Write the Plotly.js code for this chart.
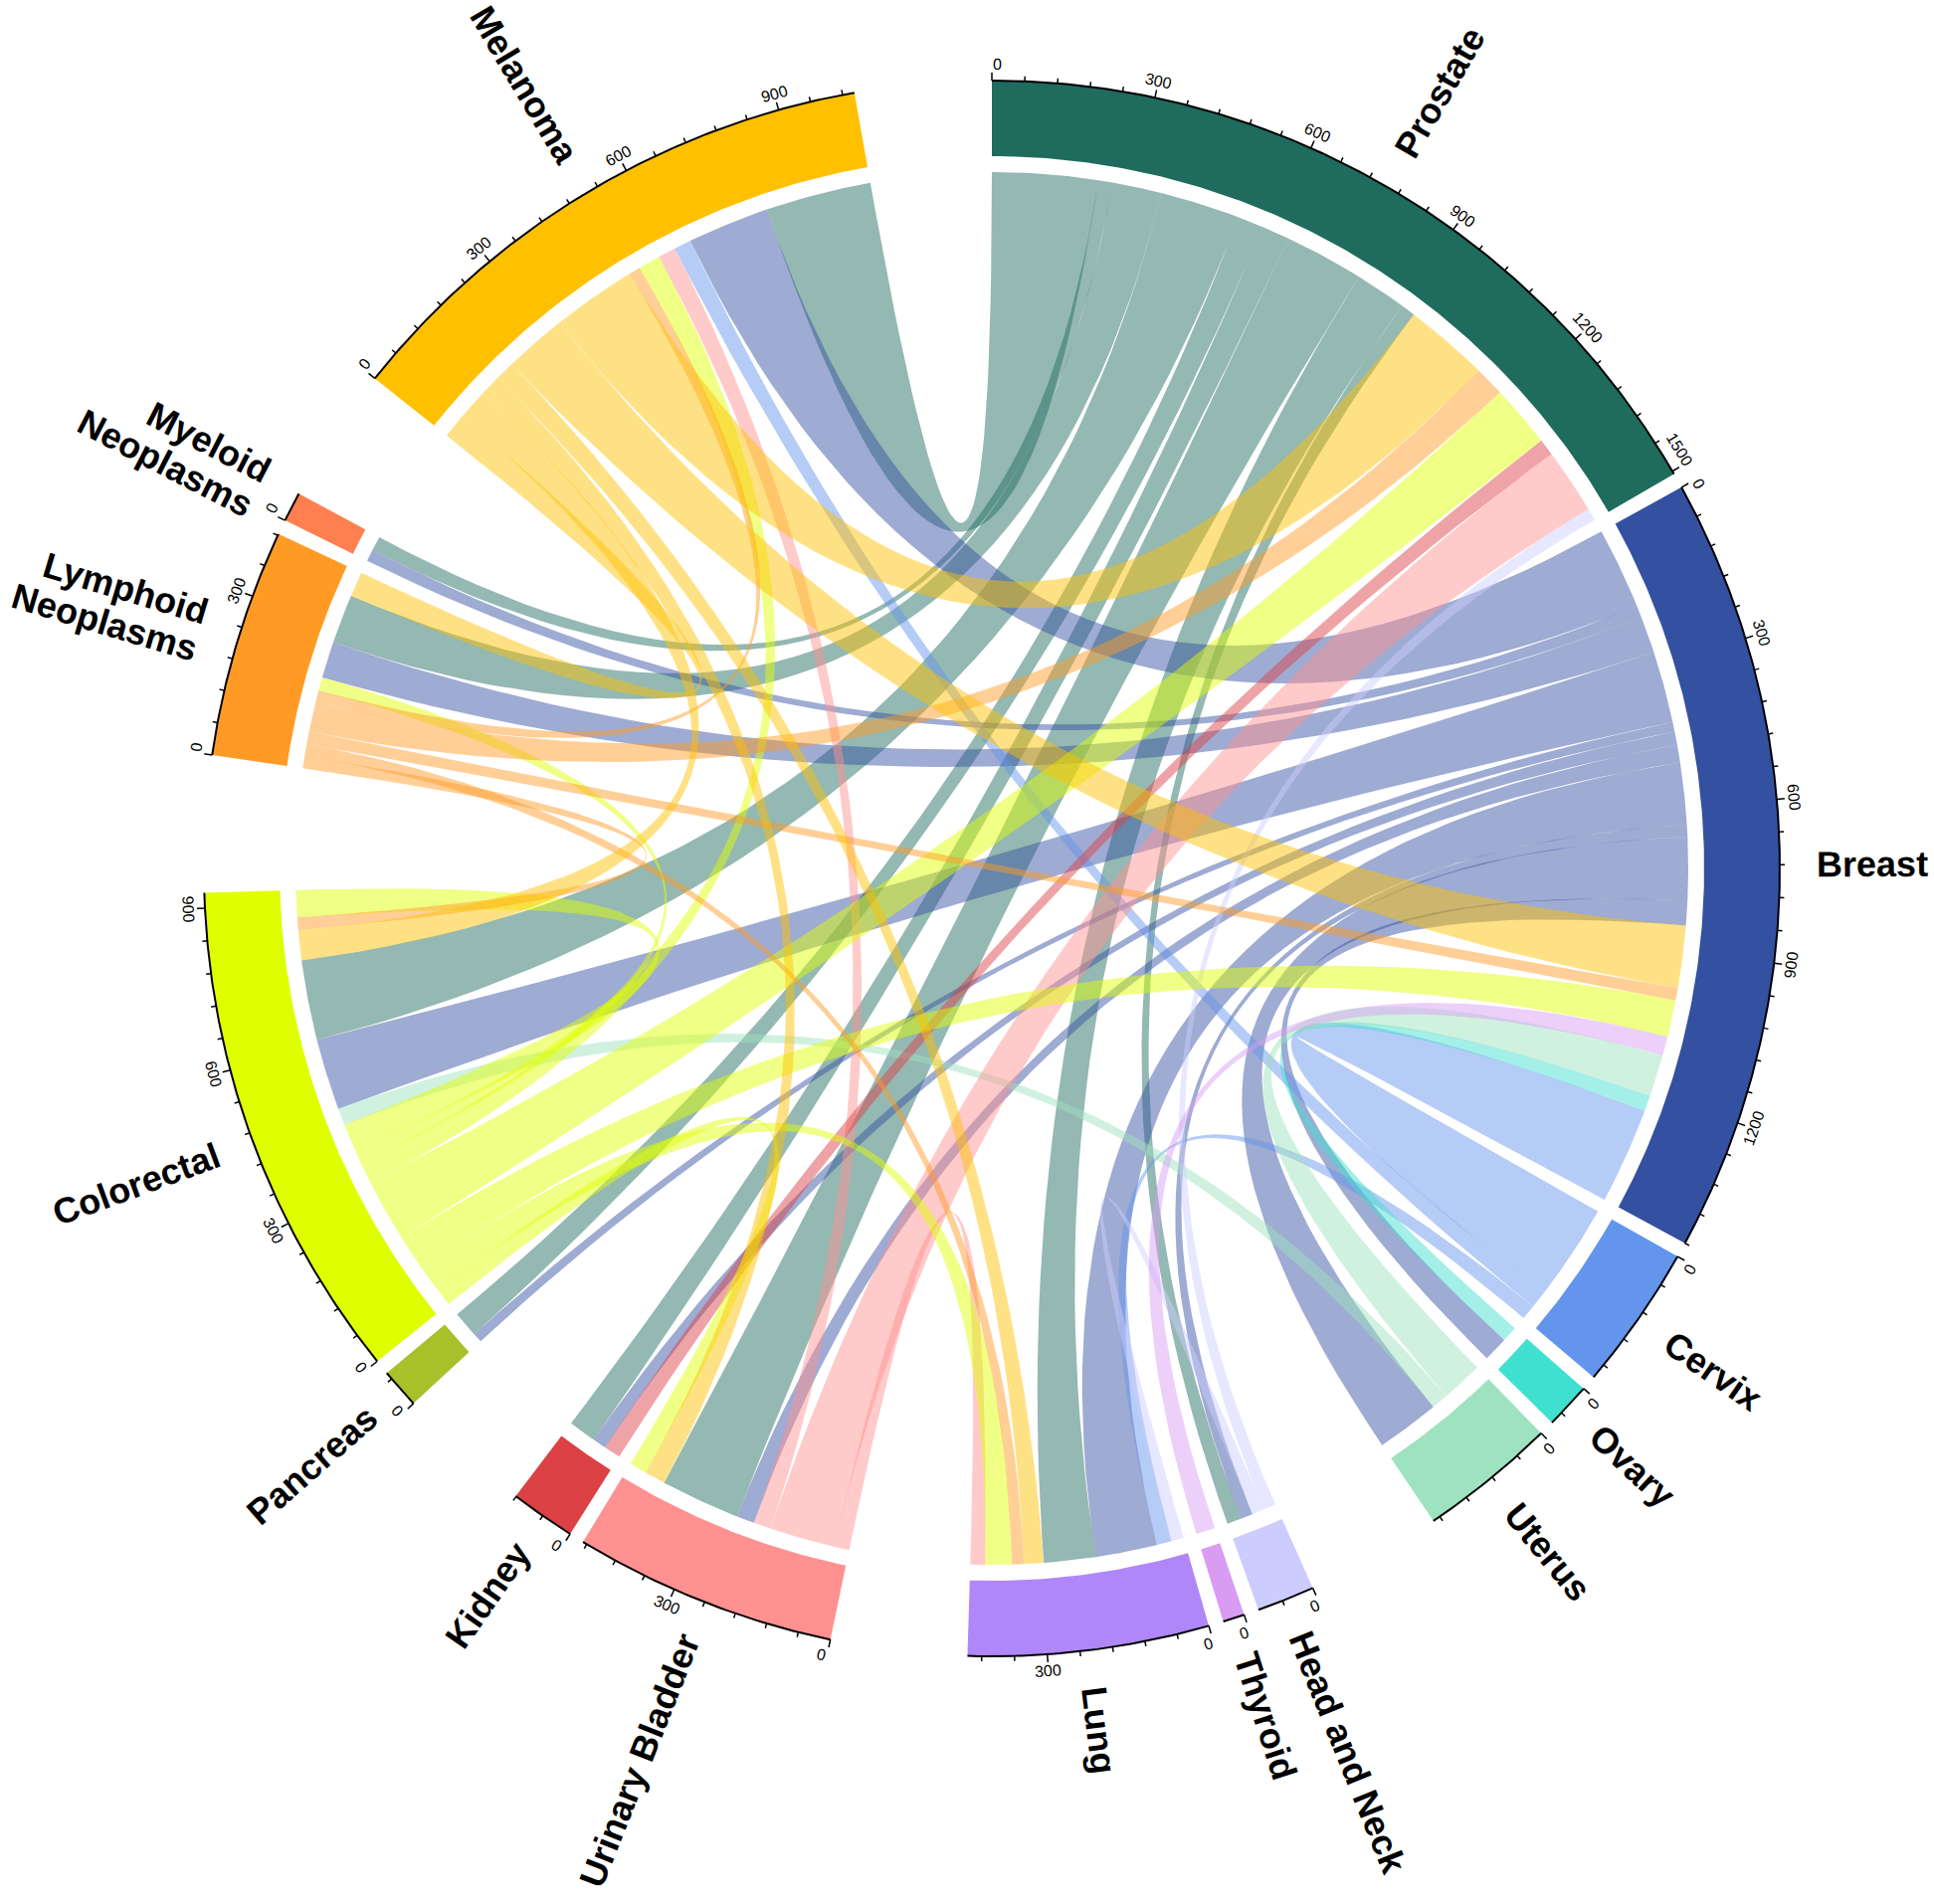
<!DOCTYPE html>
<html>
<head>
<meta charset="utf-8">
<script src="https://cdn.plot.ly/plotly-3.0.1.min.js"></script>
<style>
  body { margin: 0; background: #ffffff; }
  #chart { width: 1944px; height: 1914px; }
</style>
</head>
<body>
<div id="chart"></div>
<script>
// Chord diagram: first primary cancer -> second primary cancer

// Groups, clockwise from the top
const groupNames = ['Prostate', 'Breast', 'Cervix', 'Ovary', 'Uterus', 'Head and Neck', 'Thyroid', 'Lung',
    'Urinary Bladder', 'Kidney', 'Pancreas', 'Colorectal', 'Lymphoid Neoplasms', 'Myeloid Neoplasms', 'Melanoma'];
// label lines as printed around the ring
const groupLabelLines = [['Prostate'], ['Breast'], ['Cervix'], ['Ovary'], ['Uterus'], ['Head and Neck'], ['Thyroid'],
    ['Lung'], ['Urinary Bladder'], ['Kidney'], ['Pancreas'], ['Colorectal'], ['Lymphoid', 'Neoplasms'],
    ['Myeloid', 'Neoplasms'], ['Melanoma']];

// Flows out of each group, one value per target group (same order as groupNames)
const fromProstate   = [0, 0, 0, 0, 0, 30, 0, 108, 166, 58, 54, 167, 103, 30, 221];
const fromBreast     = [0, 0, 0, 52, 132, 25, 0, 129, 37, 28, 20, 150, 76, 25, 171];
const fromCervix     = [0, 202, 0, 0, 0, 0, 0, 31, 0, 0, 0, 0, 0, 0, 36];
const fromOvary      = [0, 33, 0, 0, 0, 0, 0, 0, 0, 0, 0, 0, 0, 0, 0];
const fromUterus     = [0, 87, 0, 0, 0, 0, 0, 0, 0, 0, 0, 35, 0, 0, 0];
const fromHeadNeck   = [26, 0, 0, 0, 0, 0, 0, 26, 0, 0, 0, 0, 0, 0, 0];
const fromThyroid    = [0, 40, 0, 0, 0, 0, 0, 0, 0, 0, 0, 0, 0, 0, 0];
const fromLung       = [0, 0, 0, 0, 0, 0, 0, 0, 0, 0, 0, 0, 0, 0, 0];
const fromBladder    = [137, 0, 0, 0, 0, 0, 0, 31, 0, 0, 0, 0, 0, 0, 37];
const fromKidney     = [35, 0, 0, 0, 0, 0, 0, 0, 0, 0, 0, 0, 0, 0, 0];
const fromPancreas   = [0, 0, 0, 0, 0, 0, 0, 0, 0, 0, 0, 0, 0, 0, 0];
const fromColorectal = [131, 77, 0, 0, 0, 0, 0, 55, 36, 0, 0, 57, 28, 0, 46];
const fromLymphoid   = [63, 26, 0, 0, 0, 0, 0, 25, 0, 0, 0, 26, 0, 0, 24];
const fromMyeloid    = [0, 0, 0, 0, 0, 0, 0, 0, 0, 0, 0, 0, 0, 0, 0];
const fromMelanoma   = [177, 130, 0, 0, 0, 0, 0, 41, 44, 0, 0, 63, 52, 0, 0];

// Styling
const groupColors = ['#1F6B5E', '#3450A1', '#6495ED', '#40E0D0', '#9FE2BF', '#CCCCFF', '#D89CF2', '#AF87F8',
    '#FF9191', '#DC4146', '#A8C02A', '#DFFF00', '#FF9B25', '#FF7F50', '#FFC000'];
const SMALL_GAP = 1.1;
const BIG_GAP = 10.05;
const gapAfter = [SMALL_GAP, SMALL_GAP, SMALL_GAP, SMALL_GAP, BIG_GAP, SMALL_GAP, SMALL_GAP, BIG_GAP,
    SMALL_GAP, BIG_GAP, SMALL_GAP, BIG_GAP, SMALL_GAP, BIG_GAP, BIG_GAP];

const R_LINK = 700;   // where ribbons end
const R_IN = 716;     // inner edge of the ring
const R_OUT = 792;    // outer edge of the ring / axis line
const R_TICKTEXT = 809;
const R_LABEL = 829;
const MAJOR_BY = 300;
const MINOR_BY = 60;
const RIBBON_ALPHA = 0.48;
const TICK_FONT = 16;
const LABEL_FONT = 36;
const LABEL_LINE_GAP = 39;
const FONT_FAMILY = 'Liberation Sans, Arial, sans-serif';

const flows = [fromProstate, fromBreast, fromCervix, fromOvary, fromUterus, fromHeadNeck, fromThyroid, fromLung,
    fromBladder, fromKidney, fromPancreas, fromColorectal, fromLymphoid, fromMyeloid, fromMelanoma];
const N = groupNames.length;

/**
 * Point on the circle; angle in degrees clockwise from 12 o'clock
 */
function polar(r, deg) {
    const a = deg * Math.PI / 180;
    return [r * Math.sin(a), r * Math.cos(a)];
}

function pushArc(r, a0, a1, xs, ys) {
    const steps = Math.max(2, Math.ceil(Math.abs(a1 - a0) / 0.4));
    for (let i = 0; i <= steps; i++) {
        const p = polar(r, a0 + (a1 - a0) * i / steps);
        xs.push(p[0]);
        ys.push(p[1]);
    }
}

// quadratic curve with its control point in the centre
function pushCurve(p0, p2, xs, ys) {
    const steps = 48;
    for (let i = 1; i < steps; i++) {
        const t = i / steps, u = 1 - t;
        xs.push(u * u * p0[0] + t * t * p2[0]);
        ys.push(u * u * p0[1] + t * t * p2[1]);
    }
}

function rgba(hex, alpha) {
    const v = parseInt(hex.slice(1), 16);
    return `rgba(${(v >> 16) & 255},${(v >> 8) & 255},${v & 255},${alpha})`;
}

// ---- layout of the groups and the ribbon ends ----
const totals = groupNames.map((_, g) => {
    let sum = 0;
    for (let j = 0; j < N; j++) sum += flows[g][j] + flows[j][g];
    return sum;
});
const grand = totals.reduce((a, b) => a + b, 0);
const gapSum = gapAfter.reduce((a, b) => a + b, 0);
const degPerUnit = (360 - gapSum) / grand;

const groupStart = [], groupEnd = [];
const srcEnd = {}, tgtEnd = {};
let angle = 0;
for (let g = 0; g < N; g++) {
    groupStart[g] = angle;
    // outgoing first, targets taken counter-clockwise from the group
    for (let k = 1; k <= N; k++) {
        const t = (g - k + N) % N;
        const v = flows[g][t];
        if (v > 0) {
            srcEnd[g + '-' + t] = [angle, angle + v * degPerUnit];
            angle += v * degPerUnit;
        }
    }
    // then incoming, sources in the same order
    for (let k = 1; k <= N; k++) {
        const s = (g - k + N) % N;
        const v = flows[s][g];
        if (v > 0) {
            tgtEnd[s + '-' + g] = [angle, angle + v * degPerUnit];
            angle += v * degPerUnit;
        }
    }
    groupEnd[g] = angle;
    angle += gapAfter[g];
}

const traces = [];

// ribbons
for (let s = 0; s < N; s++) {
    for (let t = 0; t < N; t++) {
        if (!(flows[s][t] > 0)) continue;
        const [s0, s1] = srcEnd[s + '-' + t];
        const [t0, t1] = tgtEnd[s + '-' + t];
        const xs = [], ys = [];
        pushArc(R_LINK, s0, s1, xs, ys);
        pushCurve(polar(R_LINK, s1), polar(R_LINK, t0), xs, ys);
        pushArc(R_LINK, t0, t1, xs, ys);
        pushCurve(polar(R_LINK, t1), polar(R_LINK, s0), xs, ys);
        xs.push(xs[0]);
        ys.push(ys[0]);
        traces.push({
            x: xs, y: ys, type: 'scatter', mode: 'lines', fill: 'toself',
            fillcolor: rgba(groupColors[s], RIBBON_ALPHA),
            line: { width: 0, color: 'rgba(0,0,0,0)' },
            hoverinfo: 'text', text: `${groupNames[s]} → ${groupNames[t]}: ${flows[s][t]}`
        });
    }
}

// ring sectors
for (let g = 0; g < N; g++) {
    const xs = [], ys = [];
    pushArc(R_OUT, groupStart[g], groupEnd[g], xs, ys);
    pushArc(R_IN, groupEnd[g], groupStart[g], xs, ys);
    xs.push(xs[0]);
    ys.push(ys[0]);
    traces.push({
        x: xs, y: ys, type: 'scatter', mode: 'lines', fill: 'toself',
        fillcolor: groupColors[g], line: { width: 0, color: groupColors[g] },
        hoverinfo: 'text', text: `${groupNames[g]}: ${totals[g]}`
    });
}

// text measuring for label placement
const ctx = document.createElement('canvas').getContext('2d');
function textWidth(str, size, bold) {
    ctx.font = `${bold ? 'bold ' : ''}${size}px "Liberation Sans"`;
    return ctx.measureText(str).width;
}

// axis lines, ticks and tick labels
const axX = [], axY = [], tkX = [], tkY = [];
const annotations = [];
for (let g = 0; g < N; g++) {
    pushArc(R_OUT, groupStart[g], groupEnd[g], axX, axY);
    axX.push(null);
    axY.push(null);
    for (let v = 0; v <= totals[g]; v += MINOR_BY) {
        const a = groupStart[g] + v * degPerUnit;
        const major = v % MAJOR_BY === 0;
        const p0 = polar(R_OUT, a), p1 = polar(R_OUT + (major ? 8 : 5), a);
        tkX.push(p0[0], p1[0], null);
        tkY.push(p0[1], p1[1], null);
        if (major) {
            // keep the first and last label inside the sector
            const half = (textWidth(String(v), TICK_FONT, false) / 2 + 1) / R_TICKTEXT * 180 / Math.PI;
            let la = a;
            if (la - half < groupStart[g]) la = groupStart[g] + half;
            if (la + half > groupEnd[g]) la = groupEnd[g] - half;
            const p = polar(R_TICKTEXT, la);
            let rot = ((la % 360) + 360) % 360;
            if (rot > 90 && rot < 270) rot -= 180;
            else if (rot >= 270) rot -= 360;
            annotations.push({
                x: p[0], y: p[1], xref: 'x', yref: 'y', text: String(v), showarrow: false,
                textangle: rot, xanchor: 'center', yanchor: 'middle',
                font: { family: FONT_FAMILY, size: TICK_FONT, color: '#000' }
            });
        }
    }
}
traces.push({
    x: axX, y: axY, type: 'scatter', mode: 'lines',
    line: { color: '#000', width: 2 }, hoverinfo: 'skip'
});
traces.push({
    x: tkX, y: tkY, type: 'scatter', mode: 'lines',
    line: { color: '#000', width: 1.5 }, hoverinfo: 'skip'
});

// group labels, radial; each line starts at the same distance from the ring
for (let g = 0; g < N; g++) {
    const mid = (groupStart[g] + groupEnd[g]) / 2;
    const lines = groupLabelLines[g];
    const rot = mid < 180 ? mid - 90 : mid - 270;
    const rr = rot * Math.PI / 180;
    const up = [Math.sin(rr), Math.cos(rr)];   // direction of the letter tops, in data coords
    lines.forEach((line, i) => {
        const w = textWidth(line, LABEL_FONT, true);
        const c = polar(R_LABEL + w / 2, mid);
        const off = ((lines.length - 1) / 2 - i) * LABEL_LINE_GAP;
        annotations.push({
            x: c[0] + up[0] * off, y: c[1] + up[1] * off, xref: 'x', yref: 'y',
            text: line, showarrow: false, textangle: rot, xanchor: 'center', yanchor: 'middle',
            font: { family: FONT_FAMILY, size: LABEL_FONT, color: '#000', weight: 700 }
        });
    });
}

const layout = {
    width: 1944,
    height: 1914,
    margin: { t: 0, r: 0, b: 0, l: 0 },
    xaxis: { range: [-997, 947], visible: false, fixedrange: true },
    yaxis: { range: [-1041, 873], visible: false, fixedrange: true },
    showlegend: false,
    plot_bgcolor: '#ffffff',
    paper_bgcolor: '#ffffff',
    hovermode: 'closest',
    annotations: annotations
};

Plotly.newPlot('chart', traces, layout, { displayModeBar: false });
</script>
</body>
</html>
